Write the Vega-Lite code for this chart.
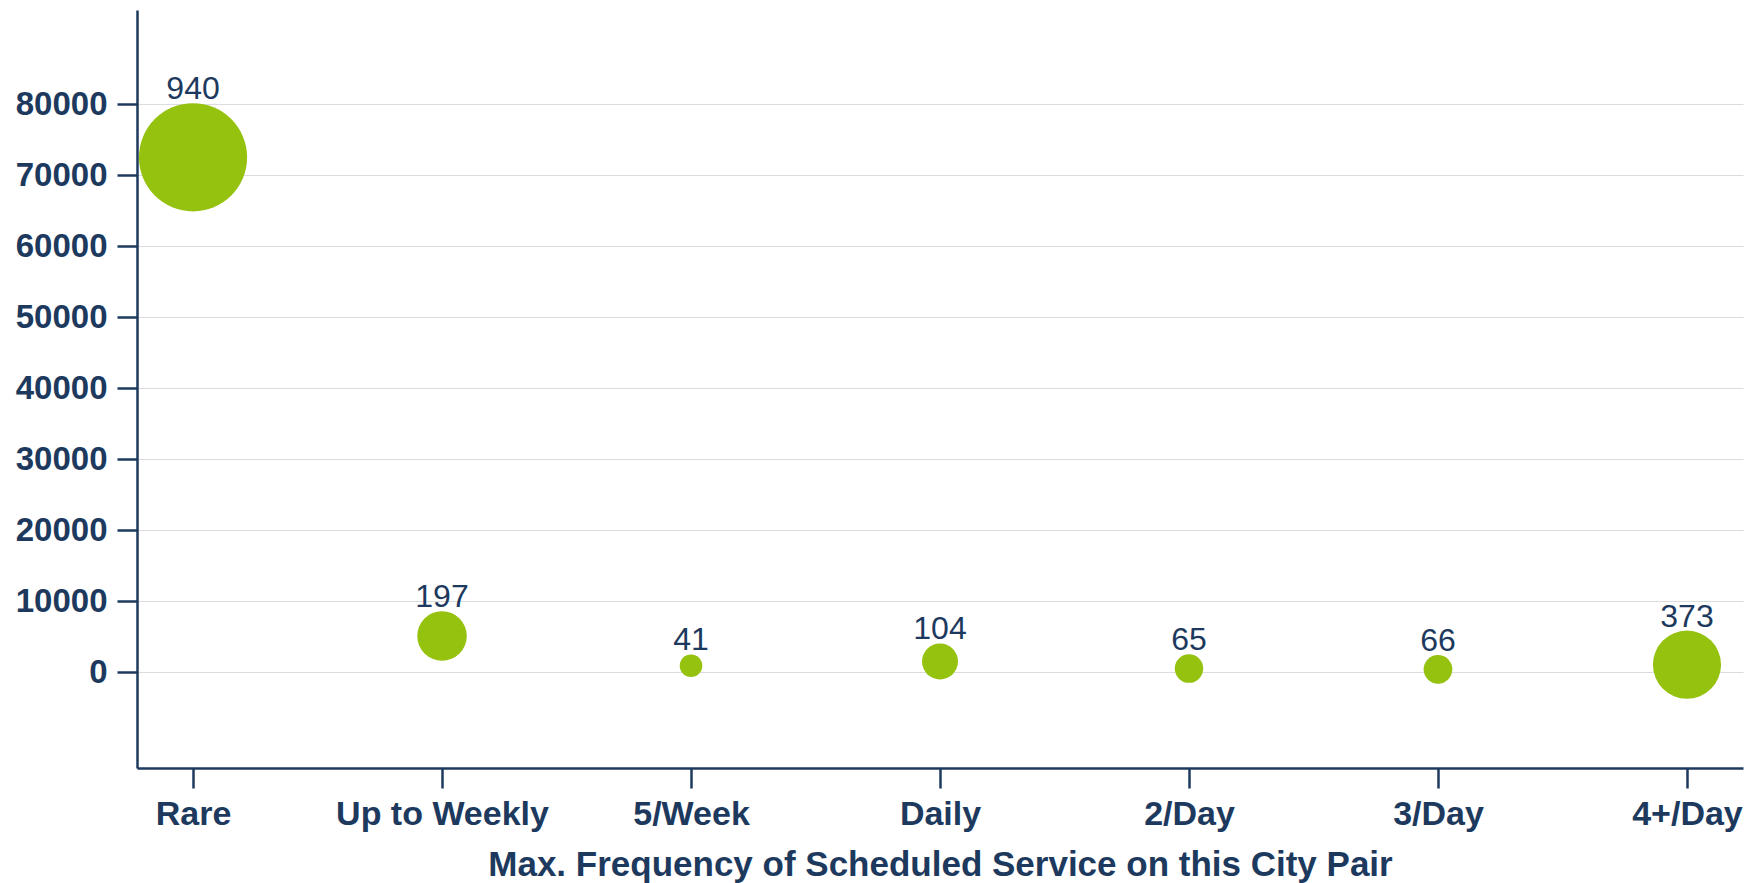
{
  "$schema": "https://vega.github.io/schema/vega-lite/v6.json",
  "autosize": {"type": "none"},
  "width": 1606,
  "height": 758,
  "padding": {"left": 137, "top": 10, "right": 20, "bottom": 115},
  "background": "white",
  "config": {
    "view": {"stroke": null},
    "font": "Liberation Sans",
    "axis": {"labelFont": "Liberation Sans", "titleFont": "Liberation Sans"}
  },
  "data": {
    "values": [
      {"freq": "Rare", "value": 72500, "count": 940},
      {"freq": "Up to Weekly", "value": 5100, "count": 197},
      {"freq": "5/Week", "value": 900, "count": 41},
      {"freq": "Daily", "value": 1500, "count": 104},
      {"freq": "2/Day", "value": 500, "count": 65},
      {"freq": "3/Day", "value": 400, "count": 66},
      {"freq": "4+/Day", "value": 1050, "count": 373}
    ]
  },
  "encoding": {
    "x": {
      "field": "freq",
      "type": "nominal",
      "sort": null,
      "scale": {"type": "point", "padding": 0.225},
      "axis": {
        "title": "Max. Frequency of Scheduled Service on this City Pair",
        "labelAngle": 0,
        "labelLimit": 0,
        "labelFontSize": 34,
        "labelFontWeight": "bold",
        "labelColor": "#1d3a5e",
        "labelPadding": 9,
        "titleFontSize": 35,
        "titleFontWeight": "bold",
        "titleColor": "#1d3a5e",
        "titlePadding": 16,
        "tickSize": 20,
        "tickWidth": 2.5,
        "tickColor": "#1d3a5e",
        "domainColor": "#1d3a5e",
        "domainWidth": 2.5,
        "grid": false
      }
    },
    "y": {
      "field": "value",
      "type": "quantitative",
      "scale": {"domain": [-13500, 93250], "nice": false, "zero": false},
      "axis": {
        "title": null,
        "values": [0, 10000, 20000, 30000, 40000, 50000, 60000, 70000, 80000],
        "format": "d",
        "labelFontSize": 33,
        "labelFontWeight": "bold",
        "labelColor": "#1d3a5e",
        "labelPadding": 10,
        "tickSize": 20,
        "tickWidth": 2.5,
        "tickColor": "#1d3a5e",
        "domainColor": "#1d3a5e",
        "domainWidth": 2.5,
        "grid": true,
        "gridColor": "#dcdcdc",
        "gridWidth": 1.2
      }
    }
  },
  "layer": [
    {
      "mark": {"type": "point", "filled": true, "shape": "circle", "opacity": 1, "color": "#95c20f"},
      "encoding": {
        "size": {
          "field": "count",
          "type": "quantitative",
          "scale": {"domain": [0, 940], "range": [0, 11700], "zero": true},
          "legend": null
        }
      }
    },
    {
      "mark": {"type": "text", "baseline": "alphabetic", "dy": {"expr": "-4 - 54.1 * sqrt(datum.count / 940)"}, "fontSize": 32, "color": "#1d3a5e"},
      "encoding": {
        "text": {"field": "count", "type": "quantitative"}
      }
    }
  ]
}
